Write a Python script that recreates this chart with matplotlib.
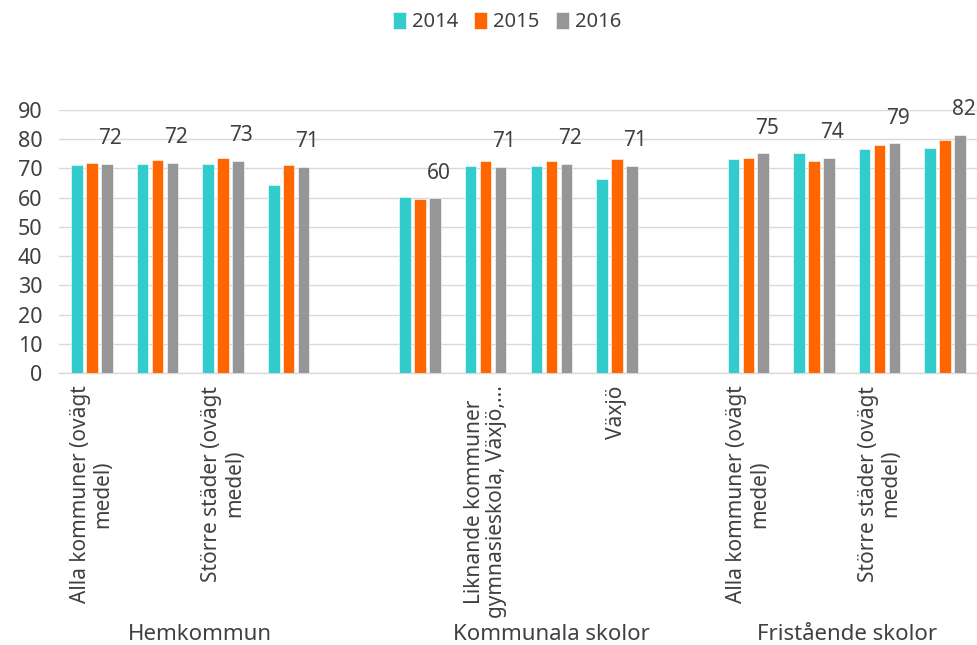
import matplotlib
matplotlib.use("Agg")
import matplotlib.pyplot as plt
import matplotlib.transforms as mtransforms

plt.rcParams['font.family'] = ['Noto Sans', 'DejaVu Sans']

groups = ['Hemkommun', 'Kommunala skolor', 'Fristående skolor']
categories = ['Alla kommuner (ovägt\nmedel)',
              'Liknande kommuner\ngymnasieskola, Växjö,...',
              'Större städer (ovägt\nmedel)',
              'Växjö']
years = ['2014', '2015', '2016']

v2014 = [71.3, 71.6, 71.6, 64.3, 60.1, 71.0, 70.9, 66.4, 73.1, 75.2, 76.7, 77.0]
v2015 = [71.7, 72.8, 73.5, 71.1, 59.7, 72.5, 72.5, 73.1, 73.7, 72.6, 78.1, 79.7]
v2016 = [71.6, 71.9, 72.6, 70.6, 59.8, 70.6, 71.6, 71.0, 75.2, 73.7, 78.6, 81.6]

colors = ['#33CCCC', '#FF6600', '#969696']
text_color = '#404040'
grid_color = '#D9D9D9'

fig = plt.figure(figsize=(9.78, 6.45), dpi=100)
ax = fig.add_axes([59 / 978, 272 / 645, 919 / 978, 263 / 645])

# each group takes 4 slots plus an empty slot between groups
n_cat = len(categories)
pos = [g * (n_cat + 1) + i for g in range(len(groups)) for i in range(n_cat)]

step = 0.228
width = 0.175
series = [v2014, v2015, v2016]
for k, (vals, col, lab) in enumerate(zip(series, colors, years)):
    xs = [p + (k - 1) * step for p in pos]
    ax.bar(xs, vals, width=width, color=col, label=lab, zorder=3,
           edgecolor='white', linewidth=0.4)

# value labels for the last year
for p, v in zip(pos, v2016):
    ax.annotate(f'{v:.0f}', (p + step, v), xytext=(2.5, 18),
                textcoords='offset points', ha='center', va='center',
                fontsize=15, color=text_color)

ax.set_xlim(-0.5, len(groups) * (n_cat + 1) - 1.5)
ax.set_ylim(0, 90)
ax.set_yticks(range(0, 91, 10))
ax.yaxis.grid(True, color=grid_color, linewidth=1.0, zorder=0)
ax.set_axisbelow(True)
for s in ['top', 'right', 'left']:
    ax.spines[s].set_visible(False)
ax.spines['bottom'].set_color(grid_color)
ax.spines['bottom'].set_linewidth(1.0)
ax.tick_params(axis='y', length=0, labelsize=15.5, labelcolor=text_color, pad=12)
ax.tick_params(axis='x', length=0)

# category labels: Excel shows every other slot
all_slots = list(range(len(groups) * (n_cat + 1) - 1))
slot_labels = [''] * len(all_slots)
for p, c in zip(pos, categories * len(groups)):
    slot_labels[p] = c
ax.set_xticks(all_slots)
ax.set_xticklabels([lab if i % 2 == 0 else '' for i, lab in enumerate(slot_labels)],
                   rotation=90, va='top', ha='center', multialignment='center',
                   fontsize=15, color=text_color, linespacing=1.1)
ax.tick_params(axis='x', pad=9)

trans = mtransforms.blended_transform_factory(ax.transData, ax.transAxes)
group_x = [1.65, 7.0, 11.5]
for gx, g in zip(group_x, groups):
    ax.text(gx, -0.996, g, transform=trans, ha='center', va='center',
            fontsize=16, color=text_color)

fig.legend(loc='center', bbox_to_anchor=(507 / 978, 1 - 22 / 645), ncol=3,
           frameon=False, fontsize=14.5, handlelength=0.65, handleheight=0.9,
           handletextpad=0.3, columnspacing=0.8, labelcolor=text_color)

fig.savefig('out.png', dpi=100)
